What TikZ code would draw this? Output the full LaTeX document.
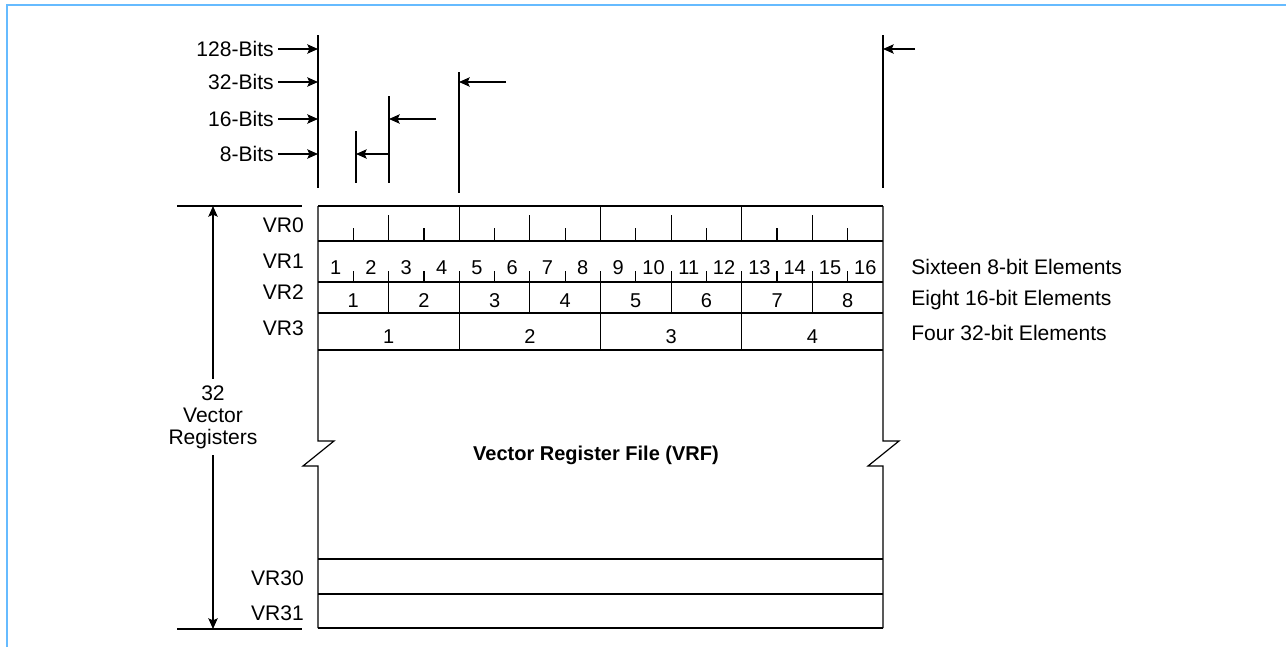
\documentclass[tikz,border=0pt]{standalone}
\usepackage{fontspec}
\setmainfont{Liberation Sans}
\usetikzlibrary{arrows.meta}
\usetikzlibrary{calc}
\definecolor{frameblue}{RGB}{102,187,255}
\tikzset{
  regline/.style={line width=0.9pt},
  lbl/.style={inner sep=0.75pt,font=\fontsize{15.8}{16.5}\selectfont},
  num/.style={inner sep=0.75pt,font=\fontsize{15}{16}\selectfont},
  bitarrow/.style={line width=0.9pt,-{Stealth[length=8pt,width=7pt,inset=1.5pt]}},
}
\begin{document}
\begin{tikzpicture}[x=0.75pt,y=0.75pt,yscale=-1,xscale=1]
\useasboundingbox (0,0) rectangle (1286,647);

%Frame
\draw [color=frameblue, line width=1.5pt] (7,647) -- (7,5) -- (1286,5) ;

%Straight Lines (element widths)
\coordinate (w128l) at (318,35) ;
\coordinate (w128r) at (883,35) ;
\coordinate (w32) at (459,72) ;
\coordinate (w16) at (389,96) ;
\coordinate (w8) at (356,131) ;
\draw [regline] (w128l) -- (318,188) ;
\draw [regline] (w128r) -- (883,188) ;
\draw [regline] (w32) -- (459,193) ;
\draw [regline] (w16) -- (389,183) ;
\draw [regline] (w8) -- (356,183) ;

% Text Node
\node [lbl, anchor=east, inner sep=3pt] (b128) at (278,49) {128-Bits};
% Text Node
\node [lbl, anchor=east, inner sep=3pt] (b32) at (278,82) {32-Bits};
% Text Node
\node [lbl, anchor=east, inner sep=3pt] (b16) at (278,119) {16-Bits};
% Text Node
\node [lbl, anchor=east, inner sep=3pt] (b8) at (278,154) {8-Bits};
\draw [bitarrow] (b128) -- (b128 -| w128l) ;
\draw [bitarrow] (b32) -- (b32 -| w128l) ;
\draw [bitarrow] (b16) -- (b16 -| w128l) ;
\draw [bitarrow] (b8) -- (b8 -| w128l) ;

%Arrows back from the right
\coordinate (s128) at (915,49) ;
\coordinate (s32) at (506,82) ;
\coordinate (s16) at (436,119) ;
\coordinate (s8) at (389,154) ;
\draw [bitarrow] (s128) -- (s128 -| w128r) ;
\draw [bitarrow] (s32) -- (s32 -| w32) ;
\draw [bitarrow] (s16) -- (s16 -| w16) ;
\draw [bitarrow] (s8) -- (s8 -| w8) ;

%Register rows
\draw [regline] (318,206) -- (883,206) ;
\draw [regline] (318,241) -- (883,241) ;
\draw [regline] (318,282) -- (883,282) ;
\draw [regline] (318,313) -- (883,313) ;
\draw [regline] (318,350) -- (883,350) ;
\draw [regline] (318,559) -- (883,559) ;
\draw [regline] (318,594) -- (883,594) ;
\draw [regline] (318,628) -- (883,628) ;
%Sides with break
\draw [regline] (318,206) -- (318,441) -- (334,441) -- (303,466) -- (318,466) -- (318,628) ;
\draw [regline] (883,206) -- (883,441) -- (899,441) -- (868,466) -- (883,466) -- (883,628) ;

%32-bit dividers
\draw [regline] (459.25,206) -- (459.25,241) (459.25,271) -- (459.25,350) ;
\draw [regline] (600.5,206) -- (600.5,241) (600.5,271) -- (600.5,350) ;
\draw [regline] (741.75,206) -- (741.75,241) (741.75,271) -- (741.75,350) ;
%16-bit dividers
\draw [regline] (388.63,215) -- (388.63,241) (388.63,271) -- (388.63,313) ;
\draw [regline] (529.88,215) -- (529.88,241) (529.88,271) -- (529.88,313) ;
\draw [regline] (671.13,215) -- (671.13,241) (671.13,271) -- (671.13,313) ;
\draw [regline] (812.38,215) -- (812.38,241) (812.38,271) -- (812.38,313) ;
%8-bit ticks
\draw [regline] (353.31,228) -- (353.31,241) (353.31,271) -- (353.31,282) ;
\draw [regline] (423.94,228) -- (423.94,241) (423.94,271) -- (423.94,282) ;
\draw [regline] (494.56,228) -- (494.56,241) (494.56,271) -- (494.56,282) ;
\draw [regline] (565.19,228) -- (565.19,241) (565.19,271) -- (565.19,282) ;
\draw [regline] (635.81,228) -- (635.81,241) (635.81,271) -- (635.81,282) ;
\draw [regline] (706.44,228) -- (706.44,241) (706.44,271) -- (706.44,282) ;
\draw [regline] (777.06,228) -- (777.06,241) (777.06,271) -- (777.06,282) ;
\draw [regline] (847.69,228) -- (847.69,241) (847.69,271) -- (847.69,282) ;

% Text Node (VR1 elements)
\node [num, anchor=base] (e8a) at (335.7,274) {1};
\node [num, anchor=base] (e8b) at (371.0,274) {2};
\node [num, anchor=base] (e8c) at (406.3,274) {3};
\node [num, anchor=base] (e8d) at (441.6,274) {4};
\node [num, anchor=base] (e8e) at (476.9,274) {5};
\node [num, anchor=base] (e8f) at (512.2,274) {6};
\node [num, anchor=base] (e8g) at (547.5,274) {7};
\node [num, anchor=base] (e8h) at (582.8,274) {8};
\node [num, anchor=base] (e8i) at (618.2,274) {9};
\node [num, anchor=base] (e8j) at (653.5,274) {10};
\node [num, anchor=base] (e8k) at (688.8,274) {11};
\node [num, anchor=base] (e8l) at (724.1,274) {12};
\node [num, anchor=base] (e8m) at (759.4,274) {13};
\node [num, anchor=base] (e8n) at (794.7,274) {14};
\node [num, anchor=base] (e8o) at (830.0,274) {15};
\node [num, anchor=base] (e8p) at (865.3,274) {16};
% Text Node (VR2 elements)
\node [num, anchor=base] (e16a) at (353.3,307) {1};
\node [num, anchor=base] (e16b) at (423.9,307) {2};
\node [num, anchor=base] (e16c) at (494.6,307) {3};
\node [num, anchor=base] (e16d) at (565.2,307) {4};
\node [num, anchor=base] (e16e) at (635.8,307) {5};
\node [num, anchor=base] (e16f) at (706.4,307) {6};
\node [num, anchor=base] (e16g) at (777.1,307) {7};
\node [num, anchor=base] (e16h) at (847.7,307) {8};
% Text Node (VR3 elements)
\node [num, anchor=base] (e32a) at (388.6,343) {1};
\node [num, anchor=base] (e32b) at (529.9,343) {2};
\node [num, anchor=base] (e32c) at (671.1,343) {3};
\node [num, anchor=base] (e32d) at (812.4,343) {4};

% Text Node (register names)
\node [lbl, anchor=base east] (vr0) at (305,232) {VR0};
\node [lbl, anchor=base east] (vr1) at (305,268) {VR1};
\node [lbl, anchor=base east] (vr2) at (305,299) {VR2};
\node [lbl, anchor=base east] (vr3) at (305,335) {VR3};
\node [lbl, anchor=base east] (vr30) at (305,585) {VR30};
\node [lbl, anchor=base east] (vr31) at (305,620) {VR31};

% Text Node (element counts)
\node [lbl, anchor=base west] (c8) at (910,274) {Sixteen 8-bit Elements};
\node [lbl, anchor=base west] (c16) at (910,305) {Eight 16-bit Elements};
\node [lbl, anchor=base west] (c32) at (910,340) {Four 32-bit Elements};

% Text Node
\node [lbl, font=\fontsize{15}{16.5}\selectfont\bfseries, anchor=base] (vrf) at (596,460) {Vector Register File (VRF)};

%Register count
\draw [regline] (177,206) -- (302,206) ;
\draw [regline] (177,629) -- (302,629) ;
\coordinate (rtop) at (213,206) ;
\coordinate (rbot) at (213,629) ;
\node [lbl, align=center, inner sep=5pt] (nreg) at (213,417) {32\\Vector\\Registers};
\draw [bitarrow] (nreg) -- (rtop) ;
\draw [bitarrow] (nreg) -- (rbot) ;

\end{tikzpicture}
\end{document}
